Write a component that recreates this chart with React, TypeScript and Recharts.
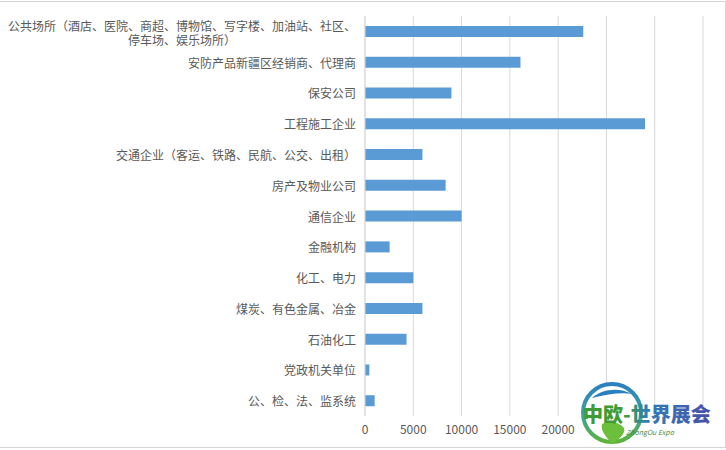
import React from 'react';
import { BarChart, Bar, XAxis, YAxis, CartesianGrid } from 'recharts';

const categories = [
  '公共场所（酒店、医院、商超、博物馆、写字楼、加油站、社区、\n停车场、娱乐场所）',
  '安防产品新疆区经销商、代理商',
  '保安公司',
  '工程施工企业',
  '交通企业（客运、铁路、民航、公交、出租）',
  '房产及物业公司',
  '通信企业',
  '金融机构',
  '化工、电力',
  '煤炭、有色金属、冶金',
  '石油化工',
  '党政机关单位',
  '公、检、法、监系统',
];
const values = [22600, 16100, 8950, 29000, 5950, 8350, 10000, 2550, 5000, 5950, 4300, 450, 1000];
const xTicks = [0, 5000, 10000, 15000, 20000, 25000, 30000, 35000];
// labels visible in the reference (the rest are covered by the watermark)
const xTickLabels = [0, 5000, 10000, 15000, 20000];

const data = categories.map((name, i) => ({ name, value: values[i] }));

const FONT = '"Noto Sans CJK SC", "Noto Sans", sans-serif';
const FS = 12;

const CategoryTick = (props: any) => {
  const { x, y, payload } = props;
  const lines: string[] = String(payload.value).split('\n');
  if (lines.length === 1) {
    return (
      <text x={x} y={y} textAnchor="end" dominantBaseline="central" fontSize={FS} fill="#595959" fontFamily={FONT}>
        {lines[0]}
      </text>
    );
  }
  const maxLen = Math.max(...lines.map((l) => l.length));
  const cx = x - (maxLen * FS) / 2;
  const lh = 13.5;
  const start = y - ((lines.length - 1) * lh) / 2 + 0.5;
  return (
    <text textAnchor="middle" dominantBaseline="central" fontSize={FS} fill="#595959" fontFamily={FONT}>
      {lines.map((l, i) => (
        <tspan key={i} x={cx} y={start + i * lh}>
          {l}
        </tspan>
      ))}
    </text>
  );
};

const Logo = () => (
  <svg width={150} height={70} style={{ position: 'absolute', left: 578, top: 378 }}>
    <defs>
      <linearGradient id="ring" x1="0" y1="0" x2="0" y2="1">
        <stop offset="0" stopColor="#2a7fc0" />
        <stop offset="0.5" stopColor="#39a3a0" />
        <stop offset="1" stopColor="#5cb33a" />
      </linearGradient>
      <linearGradient id="txt" x1="0" y1="0" x2="1" y2="0">
        <stop offset="0" stopColor="#3f9c35" />
        <stop offset="0.33" stopColor="#3f9c35" />
        <stop offset="0.5" stopColor="#2f7fb8" />
        <stop offset="1" stopColor="#4a4fa8" />
      </linearGradient>
    </defs>
    <circle cx={34} cy={35} r={29} fill="#ffffff" stroke="url(#ring)" strokeWidth={4} />
    <path d="M24 46 C 30 42, 42 44, 46 50 C 48 56, 40 62, 34 66 C 30 60, 22 54, 24 46 Z" fill="#6cbf3a" />
    <path d="M14 20 C 22 12, 40 8, 54 16 C 44 14, 30 16, 14 20 Z" fill="#2a7fc0" />
    <text x={5} y={44} fontSize={20} fontWeight={900} fontFamily={FONT} fill="url(#txt)">
      中欧-世界展会
    </text>
    <text x={48} y={57} fontSize={7} fontStyle="italic" fontFamily={FONT} fill="#4f8a3a">
      ZhongOu Expo
    </text>
  </svg>
);

export default function App() {
  return (
    <div style={{ position: 'absolute', left: 0, top: 0, width: 726, height: 450, background: '#ffffff', overflow: 'hidden' }}>
      <BarChart
        width={726}
        height={450}
        data={data}
        layout="vertical"
        margin={{ top: 16, right: 23, bottom: 4, left: 0 }}
        barCategoryGap={0}
      >
        <CartesianGrid horizontal={false} vertical={true} stroke="#d9d9d9" />
        <XAxis
          type="number"
          domain={[0, 35000]}
          ticks={xTicks}
          interval={0}
          axisLine={false}
          tickLine={false}
          tickSize={0}
          tickMargin={9}
          height={30}
          tickFormatter={(v: number) => (xTickLabels.includes(v) ? String(v) : '')}
          tick={{ fontSize: 12, fill: '#595959', fontFamily: FONT }}
        />
        <YAxis
          type="category"
          dataKey="name"
          width={365}
          interval={0}
          tickLine={false}
          tickSize={0}
          tickMargin={9}
          axisLine={{ stroke: '#d9d9d9' }}
          tick={<CategoryTick />}
        />
        <Bar dataKey="value" fill="#5b9bd5" barSize={11} isAnimationActive={false} />
      </BarChart>
      <div style={{ position: 'absolute', left: 0, top: 1, width: 726, height: 1, background: '#d4d4d4' }} />
      <div style={{ position: 'absolute', left: 0, top: 447, width: 726, height: 1, background: '#d4d4d4' }} />
      <div style={{ position: 'absolute', left: 725, top: 1, width: 1, height: 447, background: '#d4d4d4' }} />
      <Logo />
    </div>
  );
}
